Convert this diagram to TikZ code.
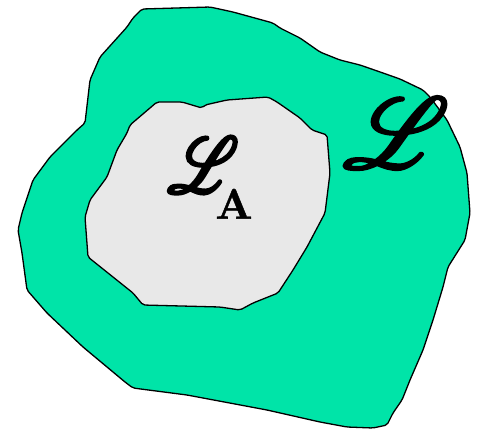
\documentclass[tikz,border=0pt]{standalone}
\usepackage{mathrsfs}
\definecolor{blobgreen}{RGB}{0,228,168}
\definecolor{blobgrey}{RGB}{232,232,232}
% #1 stroke width (in the text's own scale), #2 content: fill and stroke the glyphs
\newcommand\fattxt[2]{%
 \special{pdf:literal direct 2 Tr #1 w 1 j}#2\special{pdf:literal direct 0 Tr}}
\begin{document}
\begin{tikzpicture}[x=1pt,y=-1pt,
  region/.style={draw=black,line width=1.3pt,rounded corners=2pt,line join=round}]
\useasboundingbox (0,0) rectangle (479,432);
\draw[region,fill=blobgreen]
 (142,9) -- (210,7) -- (233,12) -- (273,23) -- (280,28) -- (300,38) -- (320,52) -- (340,60)
 -- (360,65) -- (383,73) -- (400,79) -- (423,90) -- (430,97) -- (447,120) -- (460,147)
 -- (467,173) -- (470,213) -- (465,240) -- (448,267) -- (443,287) -- (433,320) -- (423,350)
 -- (410,380) -- (402,400) -- (393,413) -- (387,425) -- (373,428) -- (347,427) -- (320,422)
 -- (267,410) -- (187,395) -- (133,388) -- (125,382) -- (83,347) -- (47,313) -- (27,290)
 -- (22,253) -- (18,230) -- (22,213) -- (33,180) -- (50,157) -- (77,130) -- (85,123)
 -- (90,80) -- (100,57) -- (127,27) -- (133,18) -- cycle;
\draw[region,fill=blobgrey]
 (157,102) -- (182,102) -- (202,108) -- (205,105) -- (227,100) -- (268,97) -- (277,102)
 -- (300,118) -- (312,130) -- (327,135) -- (330,173) -- (325,213) -- (307,247) -- (293,270)
 -- (278,293) -- (253,303) -- (240,310) -- (220,307) -- (143,305) -- (133,293) -- (88,257)
 -- (85,217) -- (90,200) -- (107,177) -- (117,150) -- (127,133) -- (130,125) -- cycle;
\node[inner sep=0pt] (Lout) at (396,133) {\scalebox{10}[10]{\fattxt{0.28}{$\mathscr{L}$}}};
\node[inner sep=0pt] (Lin) at (203,165) {\scalebox{6.7}[7.9]{\fattxt{0.4}{$\mathscr{L}$}}};
\node[inner sep=0pt] (A) at (234,204) {\scalebox{4.3}{\fattxt{0.1}{$\mathbf{A}$}}};
\end{tikzpicture}
\end{document}
